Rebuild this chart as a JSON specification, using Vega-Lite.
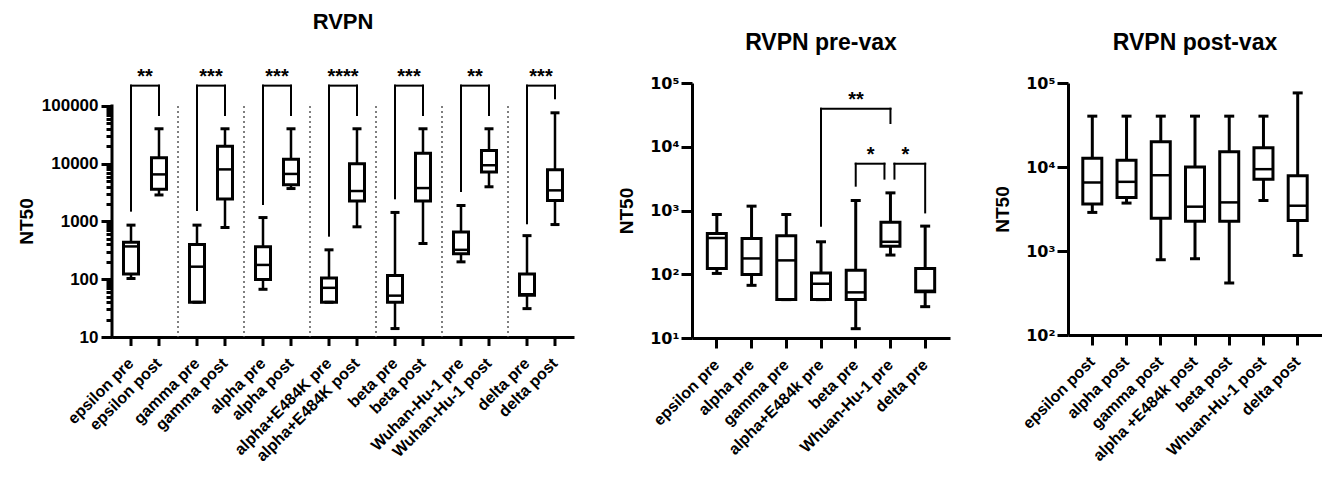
{
"$schema":"https://vega.github.io/schema/vega-lite/v6.json",
"background":"white",
"padding":{"left":17,"top":10,"right":0,"bottom":0},
"config":{
 "font":"Liberation Sans",
 "view":{"stroke":null},
 "concat":{"spacing":43},
 "tick":{"opacity":1},
 "axis":{"labelFont":"Liberation Sans","labelFontWeight":"bold","labelFontSize":16,"labelColor":"black","titleFont":"Liberation Sans","titleFontWeight":"bold","titleFontSize":19,"titleColor":"black","domainColor":"black","domainWidth":3,"tickColor":"black","tickWidth":3,"grid":false},
 "title":{"font":"Liberation Sans","fontSize":22,"fontWeight":"bold","color":"black","anchor":"middle"}
},
"datasets":{
 "rvpn":[
  {"group":"epsilon","sub":"pre","label":"epsilon pre","min":103,"q1":123,"median":370,"q3":435,"max":865},
  {"group":"epsilon","sub":"post","label":"epsilon post","min":2880,"q1":3620,"median":6540,"q3":12700,"max":40300},
  {"group":"gamma","sub":"pre","label":"gamma pre","min":40,"q1":40,"median":165,"q3":400,"max":865},
  {"group":"gamma","sub":"post","label":"gamma post","min":787,"q1":2450,"median":7980,"q3":20000,"max":40300},
  {"group":"alpha","sub":"pre","label":"alpha pre","min":67,"q1":99,"median":177,"q3":364,"max":1170},
  {"group":"alpha","sub":"post","label":"alpha post","min":3720,"q1":4340,"median":6660,"q3":12000,"max":40300},
  {"group":"alpha+E484K","sub":"pre","label":"alpha+E484K pre","min":40,"q1":40,"median":71,"q3":105,"max":323},
  {"group":"alpha+E484K","sub":"post","label":"alpha+E484K post","min":809,"q1":2260,"median":3370,"q3":10000,"max":40300},
  {"group":"beta","sub":"pre","label":"beta pre","min":14,"q1":40,"median":52,"q3":116,"max":1435},
  {"group":"beta","sub":"post","label":"beta post","min":416,"q1":2260,"median":3790,"q3":15200,"max":40300},
  {"group":"Wuhan-Hu-1","sub":"pre","label":"Wuhan-Hu-1 pre","min":200,"q1":276,"median":323,"q3":656,"max":1890},
  {"group":"Wuhan-Hu-1","sub":"post","label":"Wuhan-Hu-1 post","min":3990,"q1":7160,"median":9420,"q3":17000,"max":40300},
  {"group":"delta","sub":"pre","label":"delta pre","min":31,"q1":53,"median":55,"q3":123,"max":569},
  {"group":"delta","sub":"post","label":"delta post","min":885,"q1":2300,"median":3460,"q3":7850,"max":76200}
 ],
 "brk":[
  {"group":"epsilon","stars":"**","top":225000,"pre":1540,"post":69800},
  {"group":"gamma","stars":"***","top":225000,"pre":1580,"post":69800},
  {"group":"alpha","stars":"***","top":225000,"pre":2010,"post":69800},
  {"group":"alpha+E484K","stars":"****","top":225000,"pre":568,"post":69800},
  {"group":"beta","stars":"***","top":225000,"pre":2520,"post":69800},
  {"group":"Wuhan-Hu-1","stars":"**","top":225000,"pre":3370,"post":69800},
  {"group":"delta","stars":"***","top":225000,"pre":931,"post":136000}
 ],
 "pre":[
  {"label":"epsilon pre","min":103,"q1":123,"median":370,"q3":435,"max":865},
  {"label":"alpha pre","min":67,"q1":99,"median":177,"q3":364,"max":1170},
  {"label":"gamma pre","min":40,"q1":40,"median":165,"q3":400,"max":865},
  {"label":"alpha+E484k pre","min":40,"q1":40,"median":71,"q3":105,"max":323},
  {"label":"beta pre","min":14,"q1":40,"median":52,"q3":116,"max":1435},
  {"label":"Whuan-Hu-1 pre","min":200,"q1":276,"median":323,"q3":656,"max":1890},
  {"label":"delta pre","min":31,"q1":53,"median":55,"q3":123,"max":569}
 ],
 "preBrk":[
  {"id":1,"a":"alpha+E484k pre","b":"Whuan-Hu-1 pre","ya":577,"yb":23600,"top":39500,"stars":"**"},
  {"id":2,"a":"beta pre","b":"Whuan-Hu-1 pre","ya":2450,"yb":3160,"top":5420,"stars":"*"},
  {"id":3,"a":"Whuan-Hu-1 pre","b":"delta pre","ya":3160,"yb":933,"top":5420,"stars":"*"}
 ],
 "post":[
  {"label":"epsilon post","min":2880,"q1":3620,"median":6540,"q3":12700,"max":40300},
  {"label":"alpha post","min":3720,"q1":4340,"median":6660,"q3":12000,"max":40300},
  {"label":"gamma post","min":787,"q1":2450,"median":7980,"q3":20000,"max":40300},
  {"label":"alpha +E484k post","min":809,"q1":2260,"median":3370,"q3":10000,"max":40300},
  {"label":"beta post","min":416,"q1":2260,"median":3790,"q3":15200,"max":40300},
  {"label":"Whuan-Hu-1 post","min":3990,"q1":7160,"median":9420,"q3":17000,"max":40300},
  {"label":"delta post","min":885,"q1":2300,"median":3460,"q3":7850,"max":76200}
 ]
},
"hconcat":[
 {
  "width":462,"height":254,
  "title":{"text":"RVPN","offset":33},
  "layer":[
   {"data":{"name":"brk"},"transform":[{"filter":"datum.group != 'delta'"}],
    "mark":{"type":"rule","strokeDash":[2,3],"strokeWidth":1.5,"color":"#555"},
    "encoding":{"x":{"field":"group","type":"nominal","bandPosition":1,"scale":{"domain":["epsilon","gamma","alpha","alpha+E484K","beta","Wuhan-Hu-1","delta"],"paddingInner":0,"paddingOuter":0},"axis":{"labels":false,"ticks":false,"title":null}},
     "y":{"datum":100000,"type":"quantitative"},"y2":{"datum":10}}},
   {"data":{"name":"brk"},"transform":[{"filter":"datum.group == 'epsilon'"}],
    "mark":{"type":"rule","strokeWidth":3,"color":"black","strokeCap":"square"},
    "encoding":{"x":{"field":"group","type":"nominal","bandPosition":0},
     "y":{"datum":100000,"type":"quantitative"},"y2":{"datum":10}}},
   {"data":{"name":"rvpn"},"mark":{"type":"rule","strokeWidth":2.5,"color":"black"},
    "encoding":{"x":{"field":"group","type":"nominal"},
     "xOffset":{"field":"sub","type":"nominal","scale":{"domain":["pre","post"],"paddingInner":0,"paddingOuter":0.179}},
     "y":{"field":"min","type":"quantitative","title":"NT50","scale":{"type":"log","domain":[10,250000],"nice":false},
      "axis":{"domain":false,"values":[10,20,30,40,50,60,70,80,90,100,200,300,400,500,600,700,800,900,1000,2000,3000,4000,5000,6000,7000,8000,9000,10000,20000,30000,40000,50000,60000,70000,80000,90000,100000],
       "labelExpr":"indexof([10,100,1000,10000,100000], datum.value) >= 0 ? format(datum.value, 'd') : ''",
       "tickSize":{"condition":{"test":"indexof([10,100,1000,10000,100000], datum.value) >= 0","value":11},"value":6},
       "labelFontSize":17,"labelPadding":3,"titlePadding":5,"titleY":138}},
     "y2":{"field":"max"}}},
   {"data":{"name":"rvpn"},"mark":{"type":"bar","width":15,"fill":"white","stroke":"black","strokeWidth":3},
    "encoding":{"x":{"field":"group","type":"nominal"},"xOffset":{"field":"sub","type":"nominal"},"y":{"field":"q1","type":"quantitative","title":"NT50"},"y2":{"field":"q3"}}},
   {"data":{"name":"rvpn"},"mark":{"type":"tick","orient":"horizontal","size":15,"thickness":2.5,"color":"black","opacity":1},
    "encoding":{"x":{"field":"group","type":"nominal"},"xOffset":{"field":"sub","type":"nominal"},"y":{"field":"median","type":"quantitative","title":"NT50"}}},
   {"data":{"name":"rvpn"},"mark":{"type":"tick","orient":"horizontal","size":9,"thickness":3,"color":"black","opacity":1},
    "encoding":{"x":{"field":"group","type":"nominal"},"xOffset":{"field":"sub","type":"nominal"},"y":{"field":"min","type":"quantitative","title":"NT50"}}},
   {"data":{"name":"rvpn"},"mark":{"type":"tick","orient":"horizontal","size":9,"thickness":3,"color":"black","opacity":1},
    "encoding":{"x":{"field":"group","type":"nominal"},"xOffset":{"field":"sub","type":"nominal"},"y":{"field":"max","type":"quantitative","title":"NT50"}}},
   {"data":{"name":"brk"},"transform":[{"fold":["pre","post"],"as":["sub","lo"]}],
    "mark":{"type":"rule","strokeWidth":2,"color":"black","strokeCap":"square"},
    "encoding":{"x":{"field":"group","type":"nominal"},"xOffset":{"field":"sub","type":"nominal"},"y":{"field":"lo","type":"quantitative","title":"NT50"},"y2":{"field":"top"}}},
   {"data":{"name":"brk"},"mark":{"type":"tick","orient":"horizontal","size":30,"thickness":2,"color":"black","opacity":1},
    "encoding":{"x":{"field":"group","type":"nominal"},"y":{"field":"top","type":"quantitative","title":"NT50"}}},
   {"data":{"name":"brk"},"mark":{"type":"text","fontSize":20,"fontWeight":"bold","baseline":"alphabetic","dy":-3,"color":"black"},
    "encoding":{"x":{"field":"group","type":"nominal"},"y":{"field":"top","type":"quantitative","title":"NT50"},"text":{"field":"stars"}}},
   {"data":{"name":"rvpn"},"mark":{"type":"tick","orient":"vertical","size":9,"thickness":3,"yOffset":4.5,"color":"black","opacity":1},
    "encoding":{"x":{"field":"group","type":"nominal"},"xOffset":{"field":"sub","type":"nominal"},"y":{"datum":10}}},
   {"data":{"name":"rvpn"},"mark":{"type":"text","angle":315,"align":"right","baseline":"middle","fontSize":16,"fontWeight":"bold","radius":24,"theta":3.14159,"color":"black"},
    "encoding":{"x":{"field":"group","type":"nominal"},"xOffset":{"field":"sub","type":"nominal"},"y":{"datum":10},"text":{"field":"label"}}}
  ]
 },
 {
  "width":258,"height":255,
  "title":{"text":"RVPN pre-vax","fontSize":23,"offset":20},
  "layer":[
   {"data":{"name":"pre"},"mark":{"type":"rule","strokeWidth":3,"color":"black"},
    "encoding":{"x":{"field":"label","type":"nominal","scale":{"domain":["epsilon pre","alpha pre","gamma pre","alpha+E484k pre","beta pre","Whuan-Hu-1 pre","delta pre"],"paddingInner":0,"paddingOuter":0.215},
      "axis":{"labelAngle":-45,"labelAlign":"right","labelBaseline":"middle","tickSize":10,"labelPadding":14,"title":null}},
     "y":{"field":"min","type":"quantitative","title":"NT50","scale":{"type":"log","domain":[10,100000],"nice":false},
      "axis":{"values":[10,100,1000,10000,100000],"labelExpr":"'10' + ['⁰','¹','²','³','⁴','⁵'][round(log(datum.value)/LN10)]","labelFont":"DejaVu Sans","labelFontSize":16,"tickSize":11,"labelPadding":2,"titlePadding":13}},
     "y2":{"field":"max"}}},
   {"data":{"name":"pre"},"mark":{"type":"bar","width":19,"fill":"white","stroke":"black","strokeWidth":3},
    "encoding":{"x":{"field":"label","type":"nominal"},"y":{"field":"q1","type":"quantitative","title":"NT50"},"y2":{"field":"q3"}}},
   {"data":{"name":"pre"},"mark":{"type":"tick","orient":"horizontal","size":19,"thickness":2.5,"color":"black","opacity":1},
    "encoding":{"x":{"field":"label","type":"nominal"},"y":{"field":"median","type":"quantitative","title":"NT50"}}},
   {"data":{"name":"pre"},"mark":{"type":"tick","orient":"horizontal","size":10,"thickness":3,"color":"black","opacity":1},
    "encoding":{"x":{"field":"label","type":"nominal"},"y":{"field":"min","type":"quantitative","title":"NT50"}}},
   {"data":{"name":"pre"},"mark":{"type":"tick","orient":"horizontal","size":10,"thickness":3,"color":"black","opacity":1},
    "encoding":{"x":{"field":"label","type":"nominal"},"y":{"field":"max","type":"quantitative","title":"NT50"}}},
   {"data":{"name":"preBrk"},"transform":[{"filter":"datum.id != 3"}],"mark":{"type":"rule","strokeWidth":2,"color":"black","strokeCap":"square"},
    "encoding":{"x":{"field":"a","type":"nominal"},"y":{"field":"ya","type":"quantitative","title":"NT50"},"y2":{"field":"top"}}},
   {"data":{"name":"preBrk"},"transform":[{"filter":"datum.id == 3"}],"mark":{"type":"rule","strokeWidth":2,"color":"black","strokeCap":"square","xOffset":4},
    "encoding":{"x":{"field":"a","type":"nominal"},"y":{"field":"ya","type":"quantitative","title":"NT50"},"y2":{"field":"top"}}},
   {"data":{"name":"preBrk"},"transform":[{"filter":"datum.id != 2"}],"mark":{"type":"rule","strokeWidth":2,"color":"black","strokeCap":"square"},
    "encoding":{"x":{"field":"b","type":"nominal"},"y":{"field":"yb","type":"quantitative","title":"NT50"},"y2":{"field":"top"}}},
   {"data":{"name":"preBrk"},"transform":[{"filter":"datum.id == 2"}],"mark":{"type":"rule","strokeWidth":2,"color":"black","strokeCap":"square","xOffset":-6},
    "encoding":{"x":{"field":"b","type":"nominal"},"y":{"field":"yb","type":"quantitative","title":"NT50"},"y2":{"field":"top"}}},
   {"data":{"name":"preBrk"},"transform":[{"filter":"datum.id == 1"}],"mark":{"type":"rule","strokeWidth":2,"color":"black","strokeCap":"square"},
    "encoding":{"x":{"field":"a","type":"nominal"},"x2":{"field":"b"},"y":{"field":"top","type":"quantitative","title":"NT50"}}},
   {"data":{"name":"preBrk"},"transform":[{"filter":"datum.id == 2"}],"mark":{"type":"rule","strokeWidth":2,"color":"black","strokeCap":"square","x2Offset":-6},
    "encoding":{"x":{"field":"a","type":"nominal"},"x2":{"field":"b"},"y":{"field":"top","type":"quantitative","title":"NT50"}}},
   {"data":{"name":"preBrk"},"transform":[{"filter":"datum.id == 3"}],"mark":{"type":"rule","strokeWidth":2,"color":"black","strokeCap":"square","xOffset":4},
    "encoding":{"x":{"field":"a","type":"nominal"},"x2":{"field":"b"},"y":{"field":"top","type":"quantitative","title":"NT50"}}},
   {"data":{"name":"preBrk"},"transform":[{"filter":"datum.id == 1"}],"mark":{"type":"text","fontSize":20,"fontWeight":"bold","baseline":"alphabetic","dy":-3,"dx":35,"color":"black"},
    "encoding":{"x":{"field":"a","type":"nominal"},"y":{"field":"top","type":"quantitative","title":"NT50"},"text":{"field":"stars"}}},
   {"data":{"name":"preBrk"},"transform":[{"filter":"datum.id != 1"}],"mark":{"type":"text","fontSize":20,"fontWeight":"bold","baseline":"alphabetic","dy":-3,"dx":15,"color":"black"},
    "encoding":{"x":{"field":"a","type":"nominal"},"y":{"field":"top","type":"quantitative","title":"NT50"},"text":{"field":"stars"}}}
  ]
 },
 {
  "width":254,"height":252,
  "title":{"text":"RVPN post-vax","fontSize":23,"offset":20},
  "layer":[
   {"data":{"name":"post"},"mark":{"type":"rule","strokeWidth":3,"color":"black"},
    "encoding":{"x":{"field":"label","type":"nominal","scale":{"domain":["epsilon post","alpha post","gamma post","alpha +E484k post","beta post","Whuan-Hu-1 post","delta post"],"paddingInner":0,"paddingOuter":0.21},
      "axis":{"labelAngle":-45,"labelAlign":"right","labelBaseline":"middle","tickSize":10,"labelPadding":14,"title":null}},
     "y":{"field":"min","type":"quantitative","title":"NT50","scale":{"type":"log","domain":[100,100000],"nice":false},
      "axis":{"values":[100,1000,10000,100000],"labelExpr":"'10' + ['⁰','¹','²','³','⁴','⁵'][round(log(datum.value)/LN10)]","labelFont":"DejaVu Sans","labelFontSize":16,"tickSize":11,"labelPadding":2,"titlePadding":13}},
     "y2":{"field":"max"}}},
   {"data":{"name":"post"},"mark":{"type":"bar","width":19,"fill":"white","stroke":"black","strokeWidth":3},
    "encoding":{"x":{"field":"label","type":"nominal"},"y":{"field":"q1","type":"quantitative","title":"NT50"},"y2":{"field":"q3"}}},
   {"data":{"name":"post"},"mark":{"type":"tick","orient":"horizontal","size":19,"thickness":2.5,"color":"black","opacity":1},
    "encoding":{"x":{"field":"label","type":"nominal"},"y":{"field":"median","type":"quantitative","title":"NT50"}}},
   {"data":{"name":"post"},"mark":{"type":"tick","orient":"horizontal","size":10,"thickness":3,"color":"black","opacity":1},
    "encoding":{"x":{"field":"label","type":"nominal"},"y":{"field":"min","type":"quantitative","title":"NT50"}}},
   {"data":{"name":"post"},"mark":{"type":"tick","orient":"horizontal","size":10,"thickness":3,"color":"black","opacity":1},
    "encoding":{"x":{"field":"label","type":"nominal"},"y":{"field":"max","type":"quantitative","title":"NT50"}}}
  ]
 }
]
}
